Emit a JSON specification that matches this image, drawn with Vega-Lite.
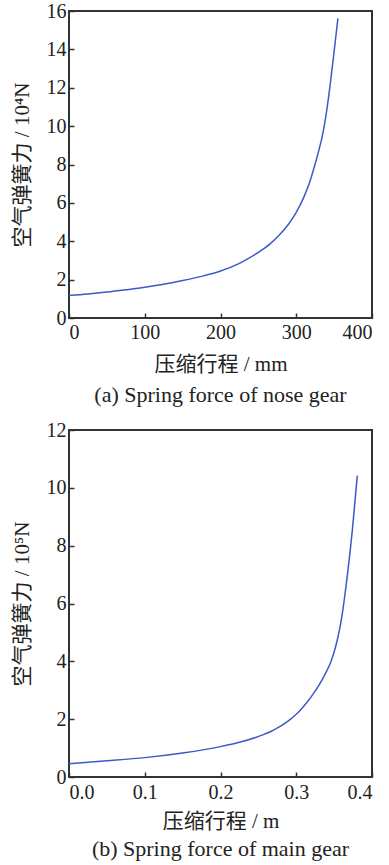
{
  "$schema": "https://vega.github.io/schema/vega-lite/v6.json",
  "background": "white",
  "padding": {"left": 10, "top": 0, "right": 0, "bottom": 0},
  "spacing": 12,
  "config": {
    "font": "Liberation Serif",
    "view": {"stroke": "#333", "strokeWidth": 2},
    "axis": {
      "grid": false,
      "domain": false,
      "tickColor": "#333",
      "tickSize": -5,
      "tickWidth": 1.5,
      "labelFont": "Liberation Serif",
      "labelFontSize": 20,
      "labelColor": "#222",
      "titleFont": "Liberation Serif, Noto Sans CJK SC",
      "titleFontSize": 21,
      "titleFontWeight": "normal",
      "titleColor": "#222"
    },
    "title": {"font": "Liberation Serif", "fontSize": 22, "fontWeight": "normal", "color": "#222"}
  },
  "datasets": {
    "nose": [
      {"x": 0, "y": 1.17}, {"x": 25, "y": 1.25}, {"x": 50, "y": 1.35}, {"x": 75, "y": 1.47},
      {"x": 100, "y": 1.6}, {"x": 125, "y": 1.76}, {"x": 150, "y": 1.95}, {"x": 175, "y": 2.17},
      {"x": 200, "y": 2.45}, {"x": 225, "y": 2.85}, {"x": 250, "y": 3.42}, {"x": 265, "y": 3.85},
      {"x": 277, "y": 4.3}, {"x": 290, "y": 4.9}, {"x": 300, "y": 5.5}, {"x": 310, "y": 6.3},
      {"x": 317, "y": 7.0}, {"x": 324, "y": 7.9}, {"x": 330, "y": 8.76}, {"x": 335, "y": 9.6},
      {"x": 339, "y": 10.5}, {"x": 343, "y": 11.6}, {"x": 346, "y": 12.55}, {"x": 349, "y": 13.55},
      {"x": 352, "y": 14.58}, {"x": 355, "y": 15.62}
    ],
    "main": [
      {"x": 0, "y": 0.46}, {"x": 0.05, "y": 0.56}, {"x": 0.1, "y": 0.67}, {"x": 0.15, "y": 0.83},
      {"x": 0.2, "y": 1.05}, {"x": 0.225, "y": 1.2}, {"x": 0.25, "y": 1.4}, {"x": 0.27, "y": 1.62},
      {"x": 0.29, "y": 1.95}, {"x": 0.3, "y": 2.17}, {"x": 0.308, "y": 2.39}, {"x": 0.315, "y": 2.61},
      {"x": 0.322, "y": 2.855}, {"x": 0.33, "y": 3.175}, {"x": 0.338, "y": 3.55}, {"x": 0.3455, "y": 3.97},
      {"x": 0.35, "y": 4.32}, {"x": 0.354, "y": 4.72}, {"x": 0.3575, "y": 5.15}, {"x": 0.3608, "y": 5.65},
      {"x": 0.364, "y": 6.25}, {"x": 0.3675, "y": 6.98}, {"x": 0.374, "y": 8.52}, {"x": 0.3806, "y": 10.42}
    ]
  },
  "vconcat": [
    {
      "width": 303,
      "height": 307,
      "title": {"text": "(a)  Spring force of nose gear", "orient": "bottom", "offset": 11},
      "data": {"name": "nose"},
      "mark": {"type": "line", "color": "#3a5bc7", "strokeWidth": 1.5, "interpolate": "monotone"},
      "encoding": {
        "x": {"field": "x", "type": "quantitative", "scale": {"domain": [0, 400], "nice": false},
              "axis": {"values": [0, 100, 200, 300, 400], "title": "压缩行程 / mm", "labelPadding": 9, "titlePadding": 11}},
        "y": {"field": "y", "type": "quantitative", "scale": {"domain": [0, 16], "nice": false},
              "axis": {"values": [0, 2, 4, 6, 8, 10, 12, 14, 16], "title": "空气弹簧力 / 10⁴N", "labelPadding": 8, "titlePadding": 14}}
      }
    },
    {
      "width": 303,
      "height": 347,
      "title": {"text": "(b)  Spring force of main gear", "orient": "bottom", "offset": 8},
      "data": {"name": "main"},
      "mark": {"type": "line", "color": "#3a5bc7", "strokeWidth": 1.5, "interpolate": "monotone"},
      "encoding": {
        "x": {"field": "x", "type": "quantitative", "scale": {"domain": [0, 0.4], "nice": false},
              "axis": {"values": [0, 0.1, 0.2, 0.3, 0.4], "format": ".1f", "title": "压缩行程 / m", "labelPadding": 10, "titlePadding": 8}},
        "y": {"field": "y", "type": "quantitative", "scale": {"domain": [0, 12], "nice": false},
              "axis": {"values": [0, 2, 4, 6, 8, 10, 12], "title": "空气弹簧力 / 10⁵N", "labelPadding": 8, "titlePadding": 14}}
      }
    }
  ]
}
